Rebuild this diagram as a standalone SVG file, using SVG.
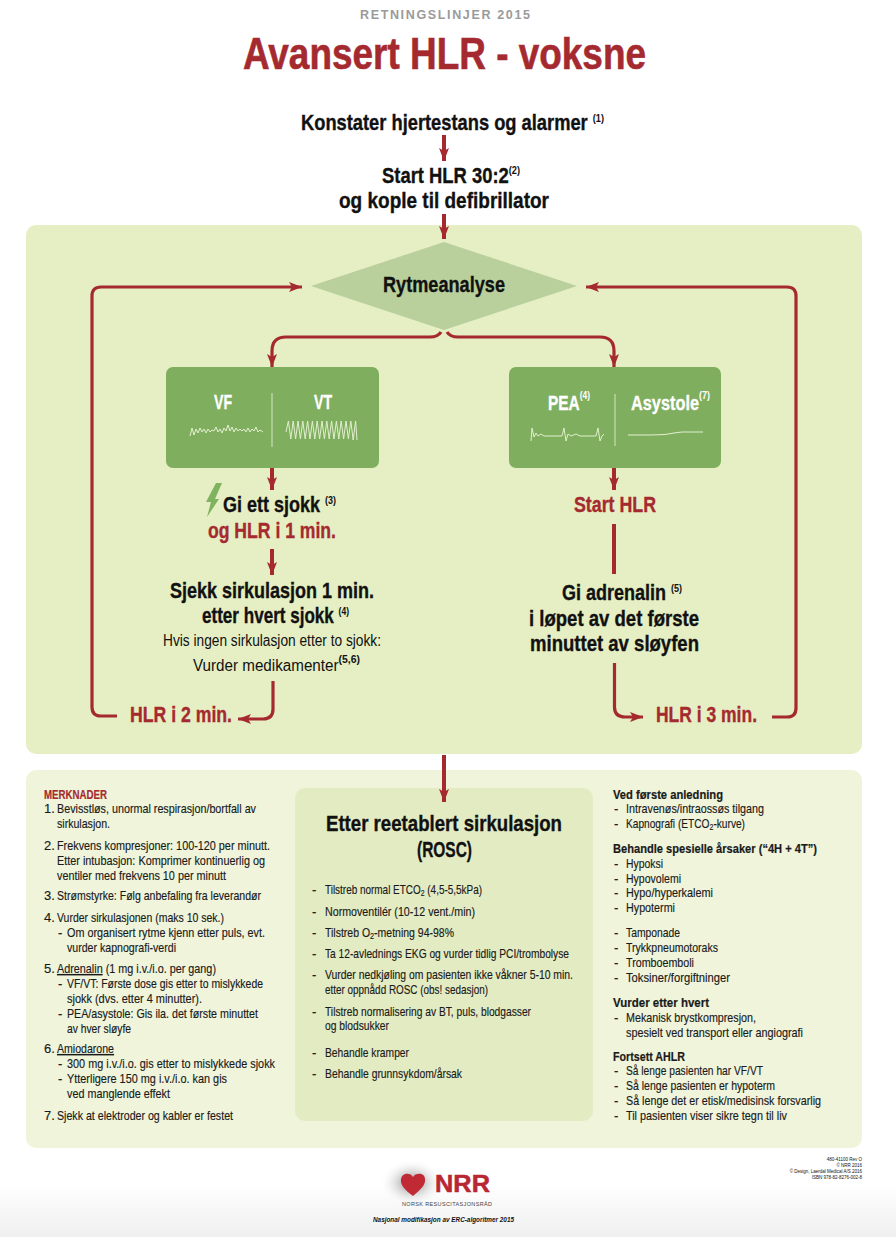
<svg xmlns="http://www.w3.org/2000/svg" width="896" height="1237" viewBox="0 0 896 1237">
<style>
text{font-family:"Liberation Sans Narrow","Liberation Sans",Arial,sans-serif;fill:#111}
.h{font-weight:700;font-size:22px;stroke:#111;stroke-width:.35px}
.h.r{fill:#a52a2f;stroke:#a52a2f}
.h.w{fill:#fff;stroke:#fff;font-size:20px}
.sup{font-size:11px;font-weight:700;stroke:none}
.n{font-size:13px;fill:#1a1a1a;stroke:#1a1a1a;stroke-width:.15px}
.nb{font-size:13px;font-weight:700;fill:#1a1a1a;stroke:#1a1a1a;stroke-width:.2px}
.nb.r{fill:#a52a2f;stroke:#a52a2f}
.c{fill:none;stroke:#a52a2f;stroke-width:3.2}
.t{fill:none;stroke:#a52a2f;stroke-width:4}
.wave{fill:none;stroke:#e3efd0;stroke-width:1}
.lf{font-family:"Liberation Sans",Arial,sans-serif}
</style>
<defs>
<marker id="a" markerUnits="userSpaceOnUse" markerWidth="14" markerHeight="12" refX="13" refY="6" orient="auto"><path d="M0 1L13 6L0 11L3 6Z" fill="#a52a2f"/></marker>
<linearGradient id="foot" x1="0" y1="0" x2="0" y2="1"><stop offset="0" stop-color="#fff"/><stop offset="1" stop-color="#efefef"/></linearGradient>
<radialGradient id="glow"><stop offset="0.35" stop-color="#c8c8c8"/><stop offset="1" stop-color="#fff" stop-opacity="0"/></radialGradient>
</defs>
<rect width="896" height="1237" fill="#fff"/>
<rect y="1185" width="896" height="52" fill="url(#foot)"/>
<g id="header">
<text x="360" y="19" font-size="12.5" font-weight="700" style="fill:#9a9a9a" textLength="170" lengthAdjust="spacing">RETNINGSLINJER 2015</text>
<text class="h r" x="243" y="69" textLength="403" lengthAdjust="spacingAndGlyphs" style="font-size:45px;stroke-width:.6px">Avansert HLR - voksne</text>
</g>
<g id="panels">
<rect x="26" y="225" width="836" height="529" rx="10" fill="#e6eec3"/>
<rect x="26" y="770" width="836" height="378" rx="10" fill="#eff4da"/>
<rect x="295" y="788" width="298" height="333" rx="10" fill="#e3ebc2"/>
</g>
<g id="start">
<text class="h" x="301" y="130" textLength="303" lengthAdjust="spacingAndGlyphs">Konstater hjertestans og alarmer <tspan class="sup" dy="-8">(1)</tspan></text>
</g>
<g id="hlr302">
<text class="h" x="382" y="183" textLength="138" lengthAdjust="spacingAndGlyphs">Start HLR 30:2<tspan class="sup" dy="-9">(2)</tspan></text>
<text class="h" x="339" y="208" textLength="210" lengthAdjust="spacingAndGlyphs">og kople til defibrillator</text>
</g>
<g id="rytmeanalyse">
<polygon points="311,286 444,242 577,286 444,330" fill="#b9d09c"/>
<text class="h" x="383" y="292" textLength="122" lengthAdjust="spacingAndGlyphs">Rytmeanalyse</text>
</g>
<g id="sjokkbar">
<rect x="166" y="367" width="213" height="101" rx="7" fill="#7fae5e"/>
<text class="h w" x="214" y="409" textLength="18" lengthAdjust="spacingAndGlyphs">VF</text>
<text class="h w" x="314" y="409" textLength="18" lengthAdjust="spacingAndGlyphs">VT</text>
<path d="M272 393V447" stroke="#d8e6c4" stroke-width="1"/>
<polyline class="wave" points="190,436 192,428 194,435 196,429 198,433 200,428 202,432 204,429 206,433 208,429 210,432 212,430 214,431 216,427 218,432 220,429 222,433 224,428 226,431 228,425 230,431 232,427 234,432 236,428 238,431 240,429 242,431 244,429 246,432 248,428 250,432 252,429 254,431 256,427 258,432 260,430 263,432"/>
<polyline class="wave" points="286,432 288.4,421 290.8,439 293.2,421 295.6,439 298,421 300.4,439 302.8,421 305.2,439 307.6,421 310,439 312.4,421 314.8,439 317.2,421 319.6,439 322,421 324.4,439 326.8,421 329.2,439 331.6,421 334,439 336.4,421 338.8,439 341.2,421 343.6,439 346,421 348.4,439 350.8,421 353.2,440 355.6,421 357,440"/>
</g>
<g id="ikkesjokkbar">
<rect x="509" y="367" width="212" height="101" rx="7" fill="#7fae5e"/>
<text class="h w" x="548" y="410" textLength="42" lengthAdjust="spacingAndGlyphs">PEA<tspan class="sup" dy="-11">(4)</tspan></text>
<text class="h w" x="631" y="410" textLength="79" lengthAdjust="spacingAndGlyphs">Asystole<tspan class="sup" dy="-11">(7)</tspan></text>
<path d="M615 394V446" stroke="#d8e6c4" stroke-width="1"/>
<polyline class="wave" points="531,441 532,428 534,437 536,433 538,436 541,434 544,436 552,436 558,436 562,436 564,428 566,441 568,434 571,436 576,434 580,436 590,436 596,436 598,428 600,441 602,436 604,434"/>
<polyline class="wave" points="628,435 650,435 665,434.500 674,433 682,432 703,432"/>
</g>
<g id="sjokk">
<path d="M216 483H222L215 499H219L207 517L211 502H206Z" fill="#7fb35f"/>
<text class="h" x="223" y="512" textLength="113" lengthAdjust="spacingAndGlyphs">Gi ett sjokk <tspan class="sup" dy="-8">(3)</tspan></text>
<text class="h r" x="208" y="538" textLength="128" lengthAdjust="spacingAndGlyphs">og HLR i 1 min.</text>
</g>
<g id="starthlr">
<text class="h r" x="574" y="512" textLength="82" lengthAdjust="spacingAndGlyphs">Start HLR</text>
</g>
<g id="sjekk">
<text class="h" x="170" y="598" textLength="204" lengthAdjust="spacingAndGlyphs">Sjekk sirkulasjon 1 min.</text>
<text class="h" x="202" y="623" textLength="147" lengthAdjust="spacingAndGlyphs">etter hvert sjokk <tspan class="sup" dy="-8">(4)</tspan></text>
<text x="163" y="646" font-size="16" textLength="218" lengthAdjust="spacingAndGlyphs">Hvis ingen sirkulasjon etter to sjokk:</text>
<text x="193" y="671" font-size="16" textLength="167" lengthAdjust="spacingAndGlyphs">Vurder medikamenter<tspan class="sup" dy="-8">(5,6)</tspan></text>
</g>
<g id="adrenalin">
<text class="h" x="562" y="600" textLength="120" lengthAdjust="spacingAndGlyphs">Gi adrenalin <tspan class="sup" dy="-8">(5)</tspan></text>
<text class="h" x="529" y="626" textLength="170" lengthAdjust="spacingAndGlyphs">i løpet av det første</text>
<text class="h" x="530" y="651" textLength="169" lengthAdjust="spacingAndGlyphs">minuttet av sløyfen</text>
</g>
<g id="hlr2"><text class="h r" x="130" y="722" textLength="102" lengthAdjust="spacingAndGlyphs">HLR i 2 min.</text></g>
<g id="hlr3"><text class="h r" x="656" y="722" textLength="101" lengthAdjust="spacingAndGlyphs">HLR i 3 min.</text></g>
<g id="connectors">
<path class="t" marker-end="url(#a)" d="M444 135V161"/>
<path class="t" marker-end="url(#a)" d="M444 214V239"/>
<path class="c" marker-end="url(#a)" d="M441 332Q438 337 430 337H286Q272 337 272 351V367"/>
<path class="c" marker-end="url(#a)" d="M447 332Q450 337 458 337H600Q614 337 614 351V367"/>
<path class="t" marker-end="url(#a)" d="M272 468V490"/>
<path class="t" marker-end="url(#a)" d="M614 468V490"/>
<path class="t" marker-end="url(#a)" d="M272 549V575"/>
<path class="t" d="M614 524V574"/>
<path class="c" marker-end="url(#a)" d="M273 681V709Q273 719 263 719H238"/>
<path class="c" marker-end="url(#a)" d="M614.500 663V707Q614.500 717 625 717H643"/>
<path class="c" marker-end="url(#a)" d="M117 716H101Q92 716 92 707V296Q92 287 101 287H302"/>
<path class="c" marker-end="url(#a)" d="M772 717H787Q796 717 796 708V296Q796 287 787 287H586"/>
<path class="t" marker-end="url(#a)" d="M444 755V802"/>
</g>
<g id="merknader">
<text class="nb r" x="44" y="799" textLength="63" lengthAdjust="spacingAndGlyphs">MERKNADER</text>
<text class="n" x="44" y="813">1.</text><text class="n" x="57" y="813" textLength="199" lengthAdjust="spacingAndGlyphs">Bevisstløs, unormal respirasjon/bortfall av</text>
<text class="n" x="57" y="828" textLength="53" lengthAdjust="spacingAndGlyphs">sirkulasjon.</text>
<text class="n" x="44" y="850">2.</text><text class="n" x="57" y="850" textLength="213" lengthAdjust="spacingAndGlyphs">Frekvens kompresjoner: 100-120 per minutt.</text>
<text class="n" x="57" y="865" textLength="208" lengthAdjust="spacingAndGlyphs">Etter intubasjon: Komprimer kontinuerlig og</text>
<text class="n" x="57" y="880" textLength="169" lengthAdjust="spacingAndGlyphs">ventiler med frekvens 10 per minutt</text>
<text class="n" x="44" y="900">3.</text><text class="n" x="57" y="900" textLength="204" lengthAdjust="spacingAndGlyphs">Strømstyrke: Følg anbefaling fra leverandør</text>
<text class="n" x="44" y="922">4.</text><text class="n" x="57" y="922" textLength="167" lengthAdjust="spacingAndGlyphs">Vurder sirkulasjonen (maks 10 sek.)</text>
<text class="n" x="58" y="937">-</text><text class="n" x="67" y="937" textLength="198" lengthAdjust="spacingAndGlyphs">Om organisert rytme kjenn etter puls, evt.</text>
<text class="n" x="67" y="952" textLength="109" lengthAdjust="spacingAndGlyphs">vurder kapnografi-verdi</text>
<text class="n" x="44" y="973">5.</text><text class="n" x="57" y="973" textLength="159" lengthAdjust="spacingAndGlyphs"><tspan text-decoration="underline">Adrenalin</tspan> (1 mg i.v./i.o. per gang)</text>
<text class="n" x="58" y="988">-</text><text class="n" x="67" y="988" textLength="196" lengthAdjust="spacingAndGlyphs">VF/VT: Første dose gis etter to mislykkede</text>
<text class="n" x="67" y="1003" textLength="135" lengthAdjust="spacingAndGlyphs">sjokk (dvs. etter 4 minutter).</text>
<text class="n" x="58" y="1018">-</text><text class="n" x="67" y="1018" textLength="191" lengthAdjust="spacingAndGlyphs">PEA/asystole: Gis ila. det første minuttet</text>
<text class="n" x="67" y="1033" textLength="64" lengthAdjust="spacingAndGlyphs">av hver sløyfe</text>
<text class="n" x="44" y="1053">6.</text><text class="n" x="57" y="1053" textLength="57" lengthAdjust="spacingAndGlyphs" text-decoration="underline">Amiodarone</text>
<text class="n" x="58" y="1068">-</text><text class="n" x="67" y="1068" textLength="208" lengthAdjust="spacingAndGlyphs">300 mg i.v./i.o. gis etter to mislykkede sjokk</text>
<text class="n" x="58" y="1083">-</text><text class="n" x="67" y="1083" textLength="160" lengthAdjust="spacingAndGlyphs">Ytterligere 150 mg i.v./i.o. kan gis</text>
<text class="n" x="67" y="1098" textLength="103" lengthAdjust="spacingAndGlyphs">ved manglende effekt</text>
<text class="n" x="44" y="1120">7.</text><text class="n" x="57" y="1120" textLength="176" lengthAdjust="spacingAndGlyphs">Sjekk at elektroder og kabler er festet</text>
</g>
<g id="rosc">
<text class="h" x="326" y="831" textLength="236" lengthAdjust="spacingAndGlyphs">Etter reetablert sirkulasjon</text>
<text class="h" x="417" y="857" textLength="55" lengthAdjust="spacingAndGlyphs">(ROSC)</text>
<text class="n" x="312" y="894">-</text><text class="n" x="325" y="894" textLength="157" lengthAdjust="spacingAndGlyphs">Tilstreb normal ETCO<tspan font-size="9" dy="2">2</tspan><tspan dy="-2"> (4,5-5,5kPa)</tspan></text>
<text class="n" x="312" y="916">-</text><text class="n" x="325" y="916" textLength="150" lengthAdjust="spacingAndGlyphs">Normoventilér (10-12 vent./min)</text>
<text class="n" x="312" y="937">-</text><text class="n" x="325" y="937" textLength="129" lengthAdjust="spacingAndGlyphs">Tilstreb O<tspan font-size="9" dy="2">2</tspan><tspan dy="-2">-metning 94-98%</tspan></text>
<text class="n" x="312" y="958">-</text><text class="n" x="325" y="958" textLength="244" lengthAdjust="spacingAndGlyphs">Ta 12-avlednings EKG og vurder tidlig PCI/trombolyse</text>
<text class="n" x="312" y="979">-</text><text class="n" x="325" y="979" textLength="248" lengthAdjust="spacingAndGlyphs">Vurder nedkjøling om pasienten ikke våkner 5-10 min.</text>
<text class="n" x="325" y="994" textLength="163" lengthAdjust="spacingAndGlyphs">etter oppnådd ROSC (obs! sedasjon)</text>
<text class="n" x="312" y="1016">-</text><text class="n" x="325" y="1016" textLength="206" lengthAdjust="spacingAndGlyphs">Tilstreb normalisering av BT, puls, blodgasser</text>
<text class="n" x="325" y="1030" textLength="64" lengthAdjust="spacingAndGlyphs">og blodsukker</text>
<text class="n" x="312" y="1057">-</text><text class="n" x="325" y="1057" textLength="84" lengthAdjust="spacingAndGlyphs">Behandle kramper</text>
<text class="n" x="312" y="1078">-</text><text class="n" x="325" y="1078" textLength="137" lengthAdjust="spacingAndGlyphs">Behandle grunnsykdom/årsak</text>
</g>
<g id="hoyre">
<text class="nb" x="613" y="799" textLength="110" lengthAdjust="spacingAndGlyphs">Ved første anledning</text>
<text class="n" x="614" y="813">-</text><text class="n" x="626" y="813" textLength="138" lengthAdjust="spacingAndGlyphs">Intravenøs/intraossøs tilgang</text>
<text class="n" x="614" y="828">-</text><text class="n" x="626" y="828" textLength="119" lengthAdjust="spacingAndGlyphs">Kapnografi (ETCO<tspan font-size="9" dy="2">2</tspan><tspan dy="-2">-kurve)</tspan></text>
<text class="nb" x="613" y="853" textLength="204" lengthAdjust="spacingAndGlyphs">Behandle spesielle årsaker (“4H + 4T”)</text>
<text class="n" x="614" y="868">-</text><text class="n" x="626" y="868" textLength="37" lengthAdjust="spacingAndGlyphs">Hypoksi</text>
<text class="n" x="614" y="883">-</text><text class="n" x="626" y="883" textLength="55" lengthAdjust="spacingAndGlyphs">Hypovolemi</text>
<text class="n" x="614" y="897">-</text><text class="n" x="626" y="897" textLength="87" lengthAdjust="spacingAndGlyphs">Hypo/hyperkalemi</text>
<text class="n" x="614" y="912">-</text><text class="n" x="626" y="912" textLength="49" lengthAdjust="spacingAndGlyphs">Hypotermi</text>
<text class="n" x="614" y="937">-</text><text class="n" x="626" y="937" textLength="54" lengthAdjust="spacingAndGlyphs">Tamponade</text>
<text class="n" x="614" y="952">-</text><text class="n" x="626" y="952" textLength="92" lengthAdjust="spacingAndGlyphs">Trykkpneumotoraks</text>
<text class="n" x="614" y="967">-</text><text class="n" x="626" y="967" textLength="68" lengthAdjust="spacingAndGlyphs">Tromboemboli</text>
<text class="n" x="614" y="982">-</text><text class="n" x="626" y="982" textLength="104" lengthAdjust="spacingAndGlyphs">Toksiner/forgiftninger</text>
<text class="nb" x="613" y="1007" textLength="96" lengthAdjust="spacingAndGlyphs">Vurder etter hvert</text>
<text class="n" x="614" y="1022">-</text><text class="n" x="626" y="1022" textLength="130" lengthAdjust="spacingAndGlyphs">Mekanisk brystkompresjon,</text>
<text class="n" x="626" y="1037" textLength="177" lengthAdjust="spacingAndGlyphs">spesielt ved transport eller angiografi</text>
<text class="nb" x="613" y="1061" textLength="72" lengthAdjust="spacingAndGlyphs">Fortsett AHLR</text>
<text class="n" x="614" y="1075">-</text><text class="n" x="626" y="1075" textLength="137" lengthAdjust="spacingAndGlyphs">Så lenge pasienten har VF/VT</text>
<text class="n" x="614" y="1090">-</text><text class="n" x="626" y="1090" textLength="149" lengthAdjust="spacingAndGlyphs">Så lenge pasienten er hypoterm</text>
<text class="n" x="614" y="1105">-</text><text class="n" x="626" y="1105" textLength="195" lengthAdjust="spacingAndGlyphs">Så lenge det er etisk/medisinsk forsvarlig</text>
<text class="n" x="614" y="1120">-</text><text class="n" x="626" y="1120" textLength="161" lengthAdjust="spacingAndGlyphs">Til pasienten viser sikre tegn til liv</text>
</g>
<g id="logo">
<ellipse cx="412" cy="1183" rx="32" ry="24" fill="url(#glow)"/>
<path d="M413 1196C405 1190 400 1185 401 1179C402 1173 410 1172 413 1177C416 1172 425 1173 425 1179C426 1185 420 1190 413 1196Z" fill="#bf2a35"/>
<text class="lf" x="435" y="1192" font-size="24" font-weight="700" style="fill:#b92733;stroke:#b92733;stroke-width:.5px" textLength="55" lengthAdjust="spacingAndGlyphs">NRR</text>
<text class="lf" x="402" y="1206" font-size="5.5" textLength="90" lengthAdjust="spacing" style="fill:#444">NORSK RESUSCITASJONSRÅD</text>
<text class="lf" x="373" y="1222" font-size="7" font-weight="700" font-style="italic" textLength="141" lengthAdjust="spacingAndGlyphs">Nasjonal modifikasjon av ERC-algoritmer 2015</text>
</g>
<g id="kolofon" text-anchor="end">
<text class="lf" x="862" y="1161" font-size="4.5">480-41100 Rev O</text>
<text class="lf" x="862" y="1167" font-size="4.5">© NRR 2016</text>
<text class="lf" x="862" y="1173" font-size="4.5">© Design, Laerdal Medical A/S 2016</text>
<text class="lf" x="862" y="1179" font-size="4.5">ISBN 978-82-8276-002-8</text>
</g>
</svg>
